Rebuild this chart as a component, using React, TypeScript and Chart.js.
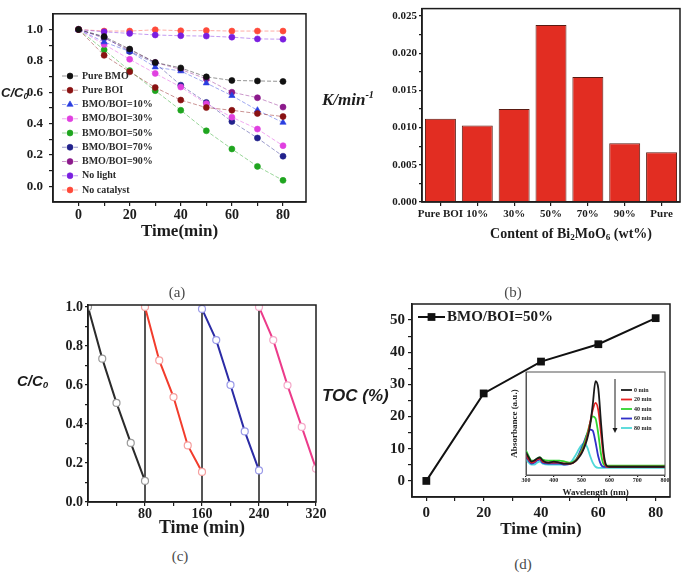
import React, { useEffect, useRef } from 'react';
import { Chart, registerables } from 'chart.js';
import { drawPoint } from 'chart.js/helpers';

Chart.register(...registerables);

// ---------- (a) C/C0 versus time ----------
const timeA = [0, 10, 20, 30, 40, 50, 60, 70, 80];
const pureBMO = [1.0, 0.955, 0.875, 0.79, 0.755, 0.698, 0.675, 0.672, 0.669];
const pureBOI = [1.0, 0.835, 0.73, 0.63, 0.55, 0.502, 0.485, 0.464, 0.445];
const bmoBoi10 = [1.0, 0.92, 0.86, 0.76, 0.735, 0.658, 0.578, 0.485, 0.407];
const bmoBoi30 = [1.0, 0.905, 0.81, 0.72, 0.633, 0.527, 0.441, 0.365, 0.259];
const bmoBoi50 = [1.0, 0.87, 0.738, 0.61, 0.485, 0.354, 0.238, 0.127, 0.038];
const bmoBoi70 = [1.0, 0.95, 0.86, 0.785, 0.645, 0.535, 0.413, 0.308, 0.192];
const bmoBoi90 = [1.0, 0.945, 0.87, 0.79, 0.745, 0.685, 0.6, 0.565, 0.505];
const noLight = [1.0, 0.985, 0.975, 0.965, 0.96, 0.958, 0.951, 0.94, 0.938];
const noCatalyst = [1.0, 0.99, 0.99, 0.998, 0.992, 0.993, 0.99, 0.99, 0.99];
const seriesLabelsA = ['Pure BMO', 'Pure BOI', 'BMO/BOI=10%', 'BMO/BOI=30%', 'BMO/BOI=50%', 'BMO/BOI=70%', 'BMO/BOI=90%', 'No light', 'No catalyst'];

// ---------- (b) rate constants ----------
const contentLabels = ['Pure BOI', '10%', '30%', '50%', '70%', '90%', 'Pure'];
const rateK = [0.0112, 0.0103, 0.0125, 0.0238, 0.0168, 0.0079, 0.0067];

// ---------- (c) cycling runs ----------
const cycle1Time = [0, 20, 40, 60, 80];
const cycle1 = [1.0, 0.735, 0.508, 0.303, 0.108];
const cycle2Time = [80, 100, 120, 140, 160];
const cycle2 = [1.0, 0.726, 0.538, 0.29, 0.154];
const cycle3Time = [160, 180, 200, 220, 240];
const cycle3 = [0.99, 0.83, 0.6, 0.362, 0.162];
const cycle4Time = [240, 260, 280, 300, 320];
const cycle4 = [1.0, 0.83, 0.598, 0.385, 0.171];
const cycleBreaks = [80, 160, 240];

// ---------- (d) TOC removal ----------
const tocTime = [0, 20, 40, 60, 80];
const tocRemoval = [0, 27.2, 37.1, 42.5, 50.6];

// ---------- (d) inset absorbance spectra ----------
const wavelength = [300, 310, 320, 330, 340, 350, 360, 380, 400, 420, 440, 460, 480, 490, 500, 510, 520, 530, 540, 550, 560, 570, 580, 590, 600, 650, 700, 750, 800];
const abs0 = [0.22, 0.17, 0.13, 0.14, 0.16, 0.17, 0.14, 0.12, 0.13, 0.12, 0.11, 0.11, 0.14, 0.17, 0.21, 0.27, 0.35, 0.47, 0.68, 0.91, 0.84, 0.5, 0.2, 0.09, 0.08, 0.08, 0.08, 0.08, 0.08];
const abs20 = [0.2, 0.15, 0.12, 0.13, 0.15, 0.16, 0.13, 0.12, 0.12, 0.12, 0.11, 0.11, 0.14, 0.18, 0.22, 0.28, 0.37, 0.5, 0.63, 0.7, 0.63, 0.4, 0.16, 0.08, 0.08, 0.08, 0.08, 0.08, 0.08];
const abs40 = [0.24, 0.18, 0.14, 0.14, 0.16, 0.17, 0.15, 0.14, 0.14, 0.14, 0.13, 0.12, 0.15, 0.19, 0.24, 0.31, 0.4, 0.5, 0.57, 0.55, 0.4, 0.2, 0.1, 0.09, 0.09, 0.09, 0.09, 0.09, 0.09];
const abs60 = [0.18, 0.14, 0.11, 0.12, 0.14, 0.15, 0.12, 0.11, 0.11, 0.11, 0.1, 0.11, 0.15, 0.2, 0.26, 0.33, 0.4, 0.44, 0.43, 0.32, 0.18, 0.1, 0.08, 0.08, 0.08, 0.08, 0.08, 0.08, 0.08];
const abs80 = [0.15, 0.12, 0.1, 0.1, 0.12, 0.13, 0.11, 0.1, 0.1, 0.1, 0.1, 0.12, 0.2, 0.25, 0.29, 0.31, 0.27, 0.19, 0.12, 0.08, 0.07, 0.07, 0.07, 0.07, 0.07, 0.07, 0.07, 0.07, 0.07];
const spectraLabels = ['0 min', '20 min', '40 min', '60 min', '80 min'];

// ---------- styling ----------
const SERIF = "'Liberation Serif', 'Times New Roman', serif";
const SANS = "'Liberation Sans', Arial, sans-serif";
const INK = '#1c1c1c';

function range(a: number, b: number, s: number) {
  const out: number[] = [];
  const n = Math.round((b - a) / s);
  for (let i = 0; i <= n; i++) out.push(Math.round((a + i * s) * 1e6) / 1e6);
  return out;
}
function rgba(hex: string, a: number) {
  const h = hex.replace('#', '');
  const r = parseInt(h.slice(0, 2), 16), g = parseInt(h.slice(2, 4), 16), b = parseInt(h.slice(4, 6), 16);
  return `rgba(${r},${g},${b},${a})`;
}
function xy(xs: number[], ys: number[]) {
  return xs.map((x, i) => ({ x, y: ys[i] }));
}
function fixTicks(values: number[]) {
  return (scale: any) => {
    scale.ticks = values.map((v) => ({ value: v }));
  };
}
function axisStyle(size: number, tickLen: number, pad: number) {
  return {
    border: { display: true, color: INK, width: 1.5 },
    grid: { display: true, drawOnChartArea: false, drawTicks: true, tickLength: tickLen, color: INK, lineWidth: 1.2 },
    ticks: {
      color: INK, autoSkip: false, maxRotation: 0, minRotation: 0, padding: pad,
      font: { family: SERIF, weight: 'bold' as const, size },
    },
  };
}

const framePlugin = {
  id: 'frame',
  beforeDraw(chart: any, _a: any, o: any) {
    if (o && o.fill) {
      const a = chart.chartArea;
      const ctx = chart.ctx;
      ctx.save();
      ctx.fillStyle = o.fill;
      ctx.fillRect(a.left, a.top, a.right - a.left, a.bottom - a.top);
      ctx.restore();
    }
  },
  afterDraw(chart: any, _a: any, o: any) {
    const a = chart.chartArea;
    const ctx = chart.ctx;
    ctx.save();
    ctx.strokeStyle = (o && o.color) || INK;
    ctx.lineWidth = (o && o.width) || 1.5;
    ctx.strokeRect(a.left, a.top, a.right - a.left, a.bottom - a.top);
    ctx.restore();
  },
};

const dividerPlugin = {
  id: 'dividers',
  beforeDatasetsDraw(chart: any, _a: any, o: any) {
    if (!o || !o.values) return;
    const sx = chart.scales.x;
    const { top, bottom } = chart.chartArea;
    const ctx = chart.ctx;
    ctx.save();
    ctx.strokeStyle = INK;
    ctx.lineWidth = 1.5;
    o.values.forEach((v: number) => {
      const px = sx.getPixelForValue(v);
      ctx.beginPath();
      ctx.moveTo(px, top);
      ctx.lineTo(px, bottom);
      ctx.stroke();
    });
    ctx.restore();
  },
};

const keyPlugin = {
  id: 'seriesKey',
  afterDraw(chart: any, _a: any, o: any) {
    if (!o || !o.show) return;
    const ctx = chart.ctx;
    chart.data.datasets.forEach((ds: any, i: number) => {
      const y = o.y + i * (o.row || 0);
      ctx.save();
      ctx.strokeStyle = ds.borderColor;
      ctx.lineWidth = ds.borderWidth;
      ctx.setLineDash(ds.borderDash || []);
      ctx.beginPath();
      ctx.moveTo(o.x, y);
      ctx.lineTo(o.x + o.len, y);
      ctx.stroke();
      ctx.setLineDash([]);
      if (ds.pointRadius > 0) {
        ctx.fillStyle = ds.pointBackgroundColor;
        ctx.strokeStyle = ds.pointBorderColor;
        ctx.lineWidth = ds.pointBorderWidth || 0;
        drawPoint(ctx, { pointStyle: ds.pointStyle, radius: ds.pointRadius, rotation: 0, borderWidth: ds.pointBorderWidth || 0 }, o.x + o.len / 2, y);
      }
      ctx.fillStyle = o.color || INK;
      ctx.font = o.font;
      ctx.textBaseline = 'middle';
      ctx.textAlign = 'left';
      ctx.fillText(ds.label, o.x + o.len + o.gap, y);
      ctx.restore();
    });
    if (o.arrow) {
      const { x, y1, y2 } = o.arrow;
      ctx.save();
      ctx.strokeStyle = INK;
      ctx.fillStyle = INK;
      ctx.lineWidth = 1;
      ctx.beginPath();
      ctx.moveTo(x, y1);
      ctx.lineTo(x, y2 - 4);
      ctx.stroke();
      ctx.beginPath();
      ctx.moveTo(x - 2.5, y2 - 5);
      ctx.lineTo(x + 2.5, y2 - 5);
      ctx.lineTo(x, y2);
      ctx.closePath();
      ctx.fill();
      ctx.restore();
    }
  },
};

// ---------- configs ----------
const styleA = [
  { color: '#111111', shape: 'circle' },
  { color: '#8a1212', shape: 'circle' },
  { color: '#2a3ee0', shape: 'triangle' },
  { color: '#e040e0', shape: 'circle' },
  { color: '#1fa51f', shape: 'circle' },
  { color: '#22228c', shape: 'circle' },
  { color: '#8c1a8c', shape: 'circle' },
  { color: '#7a1fe0', shape: 'circle' },
  { color: '#ff4a3a', shape: 'circle' },
];
const valuesA = [pureBMO, pureBOI, bmoBoi10, bmoBoi30, bmoBoi50, bmoBoi70, bmoBoi90, noLight, noCatalyst];

function configA(): any {
  const ax = axisStyle(14, 4, 1);
  const ay = axisStyle(13, 4, 6);
  return {
    type: 'line',
    data: {
      datasets: valuesA.map((vals, i) => ({
        label: seriesLabelsA[i],
        data: xy(timeA, vals),
        borderColor: rgba(styleA[i].color, 0.45),
        borderWidth: 1,
        borderDash: [4, 2],
        pointStyle: styleA[i].shape,
        pointRadius: styleA[i].shape === 'triangle' ? 3.6 : 3,
        pointBackgroundColor: styleA[i].color,
        pointBorderColor: styleA[i].color,
        pointBorderWidth: 0.6,
        tension: 0,
      })),
    },
    options: {
      responsive: false,
      animation: false,
      devicePixelRatio: 1,
      layout: { padding: { left: 0, top: 13, right: 39, bottom: 0 } },
      plugins: {
        legend: { display: false },
        tooltip: { enabled: false },
        frame: {},
        seriesKey: { show: true, x: 62, y: 76, row: 14.25, len: 16, gap: 4, font: `bold 10px ${SERIF}`, color: '#2a2a2a' },
      },
      scales: {
        x: {
          type: 'linear', min: -10, max: 89,
          ...ax,
          afterFit: (s: any) => { s.height = 58; },
          afterBuildTicks: fixTicks(range(0, 80, 10)),
          ticks: { ...ax.ticks, callback: (v: number) => (Math.round(v) % 20 === 0 ? String(Math.round(v)) : '') },
          title: { display: true, text: 'Time(min)', color: INK, font: { family: SERIF, weight: 'bold', size: 17 }, padding: { top: 0, bottom: 18 } },
        },
        y: {
          type: 'linear', min: -0.1, max: 1.1,
          ...ay,
          afterFit: (s: any) => { s.width = 53; },
          afterBuildTicks: fixTicks(range(0, 1, 0.1)),
          ticks: { ...ay.ticks, callback: (v: number) => { const n = Math.round(v * 10); return n % 2 === 0 ? (n / 10).toFixed(1) : ''; } },
        },
      },
    },
    plugins: [framePlugin, keyPlugin],
  };
}

function configB(): any {
  const ax = axisStyle(11, 4, 2);
  const ay = axisStyle(11, 3, 2);
  return {
    type: 'bar',
    data: {
      labels: contentLabels,
      datasets: [{
        label: 'K',
        data: rateK,
        backgroundColor: '#e22d22',
        borderColor: '#5a1a12',
        borderWidth: 1,
        barPercentage: 0.84,
        categoryPercentage: 1,
      }],
    },
    options: {
      responsive: false,
      animation: false,
      devicePixelRatio: 1,
      layout: { padding: { left: 0, top: 5, right: 5, bottom: 0 } },
      plugins: { legend: { display: false }, tooltip: { enabled: false }, frame: {} },
      scales: {
        x: {
          ...ax,
          grid: { ...ax.grid, offset: false },
          afterFit: (s: any) => { s.height = 58; },
        },
        y: {
          type: 'linear', min: 0, max: 0.026,
          ...ay,
          afterFit: (s: any) => { s.width = 77; },
          afterBuildTicks: fixTicks(range(0, 0.025, 0.0025)),
          ticks: { ...ay.ticks, callback: (v: number) => { const n = Math.round(v / 0.0025); return n % 2 === 0 ? (n * 0.0025).toFixed(3) : ''; } },
        },
      },
    },
    plugins: [framePlugin],
  };
}

function configC(): any {
  const ax = axisStyle(14, 4, 0);
  const ay = axisStyle(14, 3, 2);
  const runs = [
    { t: cycle1Time, v: cycle1, line: '#2b2b2b', mark: '#9a9a9a' },
    { t: cycle2Time, v: cycle2, line: '#f23c2c', mark: '#f5a0a0' },
    { t: cycle3Time, v: cycle3, line: '#2b2ba5', mark: '#9a9ae8' },
    { t: cycle4Time, v: cycle4, line: '#ec3b8a', mark: '#f4a8c8' },
  ];
  return {
    type: 'line',
    data: {
      datasets: runs.map((r, i) => ({
        label: `run ${i + 1}`,
        data: xy(r.t, r.v),
        borderColor: r.line,
        borderWidth: 2,
        pointStyle: 'circle',
        pointRadius: 3.5,
        pointBorderWidth: 1.2,
        pointBackgroundColor: '#ffffff',
        pointBorderColor: r.mark,
        tension: 0,
      })),
    },
    options: {
      responsive: false,
      animation: false,
      devicePixelRatio: 1,
      layout: { padding: { left: 0, top: 15, right: 29, bottom: 0 } },
      plugins: { legend: { display: false }, tooltip: { enabled: false }, frame: {}, dividers: { values: cycleBreaks } },
      scales: {
        x: {
          type: 'linear', min: 0, max: 320,
          ...ax,
          afterFit: (s: any) => { s.height = 43; },
          afterBuildTicks: fixTicks(range(0, 320, 40)),
          ticks: { ...ax.ticks, callback: (v: number) => (v > 0 && Math.round(v) % 80 === 0 ? String(Math.round(v)) : '') },
          title: { display: true, text: 'Time (min)', color: INK, font: { family: SERIF, weight: 'bold', size: 18 }, padding: { top: 0, bottom: 6 } },
        },
        y: {
          type: 'linear', min: 0, max: 1.01,
          ...ay,
          afterFit: (s: any) => { s.width = 88; },
          afterBuildTicks: fixTicks(range(0, 1, 0.1)),
          ticks: { ...ay.ticks, callback: (v: number) => { const n = Math.round(v * 10); return n % 2 === 0 ? (n / 10).toFixed(1) : ''; } },
        },
      },
    },
    plugins: [framePlugin, dividerPlugin],
  };
}

function configD(): any {
  const ax = axisStyle(15, 4, 3);
  const ay = axisStyle(15, 4, 3);
  return {
    type: 'line',
    data: {
      datasets: [{
        label: 'BMO/BOI=50%',
        data: xy(tocTime, tocRemoval),
        borderColor: '#111111',
        borderWidth: 2,
        pointStyle: 'rect',
        pointRadius: 5.5,
        pointBackgroundColor: '#111111',
        pointBorderColor: '#111111',
        pointBorderWidth: 0,
        tension: 0,
      }],
    },
    options: {
      responsive: false,
      animation: false,
      devicePixelRatio: 1,
      layout: { padding: { left: 0, top: 14, right: 15, bottom: 0 } },
      plugins: {
        legend: { display: false },
        tooltip: { enabled: false },
        frame: {},
        seriesKey: { show: true, x: 73, y: 27, row: 0, len: 27, gap: 2, font: `bold 15px ${SERIF}`, color: INK },
      },
      scales: {
        x: {
          type: 'linear', min: -5, max: 85,
          ...ax,
          afterFit: (s: any) => { s.height = 53; },
          afterBuildTicks: fixTicks(range(0, 80, 10)),
          ticks: { ...ax.ticks, callback: (v: number) => (Math.round(v) % 20 === 0 ? String(Math.round(v)) : '') },
          title: { display: true, text: 'Time (min)', color: INK, font: { family: SERIF, weight: 'bold', size: 17 }, padding: { top: 0, bottom: 10 } },
        },
        y: {
          type: 'linear', min: -5, max: 55,
          ...ay,
          afterFit: (s: any) => { s.width = 67; },
          afterBuildTicks: fixTicks(range(0, 50, 5)),
          ticks: { ...ay.ticks, callback: (v: number) => (Math.round(v) % 10 === 0 ? String(Math.round(v)) : '') },
        },
      },
    },
    plugins: [framePlugin, keyPlugin],
  };
}

function configInset(): any {
  const ax = axisStyle(6, 2, 0);
  const colors = ['#1a1a1a', '#e52222', '#2fd42f', '#3030c8', '#4fd9d9'];
  const spectra = [abs0, abs20, abs40, abs60, abs80];
  return {
    type: 'line',
    data: {
      datasets: spectra.map((s, i) => ({
        label: spectraLabels[i],
        data: xy(wavelength, s),
        borderColor: colors[i],
        borderWidth: 1.8,
        pointRadius: 0,
        cubicInterpolationMode: 'monotone',
        tension: 0.4,
      })),
    },
    options: {
      responsive: false,
      animation: false,
      devicePixelRatio: 1,
      layout: { padding: { left: 0, top: 6, right: 5, bottom: 0 } },
      plugins: {
        legend: { display: false },
        tooltip: { enabled: false },
        frame: { fill: '#ffffff', color: '#555555', width: 1 },
        seriesKey: { show: true, x: 116, y: 24, row: 9.5, len: 11, gap: 2, font: `bold 6px ${SERIF}`, color: INK, arrow: { x: 110, y1: 13, y2: 67 } },
      },
      scales: {
        x: {
          type: 'linear', min: 300, max: 800,
          ...ax,
          border: { display: true, color: '#555555', width: 1 },
          afterFit: (s: any) => { s.height = 25; },
          afterBuildTicks: fixTicks(range(300, 800, 100)),
          ticks: { ...ax.ticks, callback: (v: number) => String(Math.round(v)) },
          title: { display: true, text: 'Wavelength (nm)', color: INK, font: { family: SERIF, weight: 'bold', size: 9 }, padding: { top: 0, bottom: 2 } },
        },
        y: {
          type: 'linear', min: 0, max: 1,
          border: { display: true, color: '#555555', width: 1 },
          grid: { display: false },
          ticks: { display: false },
          afterFit: (s: any) => { s.width = 21; },
          title: { display: true, text: 'Absorbance (a.u.)', color: INK, font: { family: SERIF, weight: 'bold', size: 9 }, padding: { top: 4, bottom: 0 } },
        },
      },
    },
    plugins: [framePlugin, keyPlugin],
  };
}

// ---------- components ----------
function ChartBox(props: { left: number; top: number; width: number; height: number; make: () => any }) {
  const ref = useRef<HTMLCanvasElement | null>(null);
  useEffect(() => {
    if (!ref.current) return;
    const chart = new Chart(ref.current, props.make());
    return () => chart.destroy();
  }, []);
  const { left, top, width, height } = props;
  return (
    <div style={{ position: 'absolute', left, top, width, height }}>
      <canvas ref={ref} width={width} height={height} style={{ display: 'block', width, height }} />
    </div>
  );
}

function Label(props: { x: number; y: number; size: number; family: string; italic?: boolean; center?: boolean; color?: string; children: any }) {
  return (
    <div
      style={{
        position: 'absolute',
        left: props.x,
        top: props.y - props.size / 2,
        fontSize: props.size,
        lineHeight: 1,
        fontFamily: props.family,
        fontWeight: 'bold',
        fontStyle: props.italic ? 'italic' : 'normal',
        color: props.color || INK,
        whiteSpace: 'nowrap',
        transform: props.center ? 'translateX(-50%)' : undefined,
        zIndex: 2,
      }}
    >
      {props.children}
    </div>
  );
}

function Caption(props: { x: number; y: number; text: string }) {
  return (
    <div
      style={{
        position: 'absolute', left: props.x, top: props.y - 8, fontSize: 15, lineHeight: 1,
        fontFamily: SERIF, color: '#4a4a4a', transform: 'translateX(-50%)', whiteSpace: 'nowrap',
      }}
    >
      {props.text}
    </div>
  );
}

export default function App() {
  const subStyle = { fontSize: '0.65em', verticalAlign: '-0.25em' } as const;
  return (
    <div style={{ position: 'absolute', left: 0, top: 0, width: 685, height: 575, background: '#ffffff', overflow: 'hidden' }}>
      <ChartBox left={0} top={0} width={345} height={260} make={configA} />
      <ChartBox left={345} top={0} width={340} height={260} make={configB} />
      <ChartBox left={0} top={290} width={345} height={255} make={configC} />
      <ChartBox left={345} top={290} width={340} height={260} make={configD} />
      <ChartBox left={505} top={366} width={165} height={134} make={configInset} />

      <Label x={1} y={92} size={13} family={SANS} italic>C/C<span style={subStyle}>0</span></Label>
      <Label x={322} y={98} size={17} family={SERIF} italic>K/min<sup style={{ fontSize: '0.6em', verticalAlign: '0.7em' }}>-1</sup></Label>
      <Label x={571} y={234} size={14} family={SERIF} center>Content of Bi<span style={subStyle}>2</span>MoO<span style={subStyle}>6</span> (wt%)</Label>
      <Label x={17} y={380} size={15} family={SANS} italic>C/C<span style={subStyle}>0</span></Label>
      <Label x={322} y={395} size={17} family={SANS} italic>TOC (%)</Label>

      <Caption x={177} y={293} text="(a)" />
      <Caption x={513} y={293} text="(b)" />
      <Caption x={180} y={557} text="(c)" />
      <Caption x={523} y={565} text="(d)" />
    </div>
  );
}
